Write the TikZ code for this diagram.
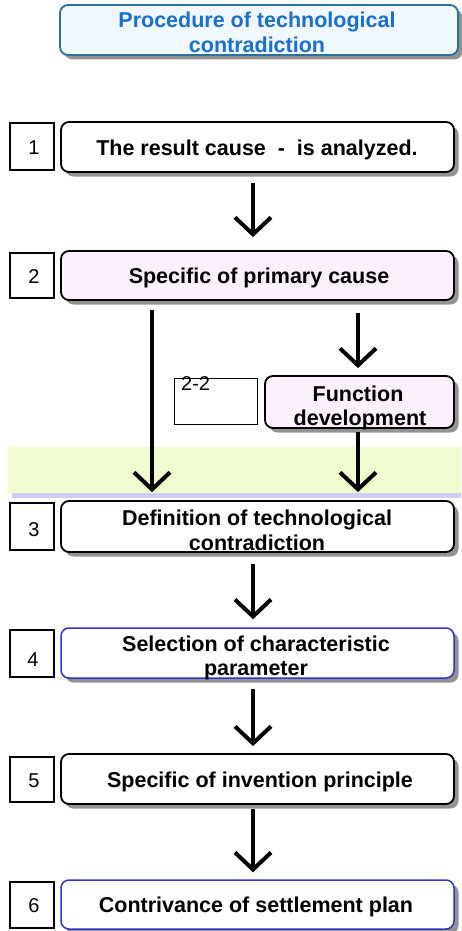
\documentclass[tikz,border=0pt]{standalone}
\usepackage{fontspec}
\setmainfont{Liberation Sans}
\usetikzlibrary{arrows.meta,shadows,calc}
\definecolor{titleborder}{HTML}{2B6F9B}
\definecolor{titlefill}{HTML}{F0F7FD}
\definecolor{titletext}{HTML}{1B6FCF}
\definecolor{pinkfill}{HTML}{FDF0FD}
\definecolor{blueborder}{HTML}{3434C4}
\definecolor{greenband}{HTML}{F0FBCF}
\definecolor{lavband}{HTML}{CCCCF6}
\begin{document}
\begin{tikzpicture}[x=1pt,y=-1pt,
  box/.style={draw=black, line width=1.8pt, rounded corners=8pt, fill=white, inner sep=0pt,
    minimum width=393pt,
    drop shadow={shadow xshift=4.5pt, shadow yshift=-4.5pt, fill=black!50, opacity=0.85}},
  numbox/.style={draw=black, line width=1.2pt, fill=white, inner sep=0pt, minimum width=44pt},
  lbl/.style={font=\fontsize{21.5}{25}\selectfont\bfseries, anchor=base, inner sep=0pt},
  num/.style={font=\fontsize{20}{24}\selectfont, anchor=base, inner sep=0pt},
  arr/.style={line width=4pt, -{Straight Barb[length=17pt,width=36pt]}}
]
\useasboundingbox (0,0) rectangle (461,931);

% background bands
\fill[greenband] (8,447) rectangle (461,493);
\fill[lavband] (12,493) rectangle (461,498);

% title
\node[box, draw=titleborder, fill=titlefill, minimum width=398pt, minimum height=50pt] (title) at (259,30) {};
\node[lbl, text=titletext] (t1) at (257,28) {Procedure of technological};
\node[lbl, text=titletext] (t2) at (257,53) {contradiction};

% number squares
\node[numbox, minimum height=47pt] (n1) at (32,146.5) {};
\node[numbox, minimum height=45pt] (n2) at (32,275.5) {};
\node[numbox, minimum height=47pt] (n3) at (32,526.5) {};
\node[numbox, minimum height=47pt] (n4) at (32,653.5) {};
\node[numbox, minimum height=45pt] (n5) at (32,779.5) {};
\node[numbox, minimum height=46pt] (n6) at (32,905) {};
\node[num] (m1) at (34,154) {1};
\node[num] (m2) at (34,283) {2};
\node[num] (m3) at (34,536) {3};
\node[num] (m4) at (33,666) {4};
\node[num] (m5) at (34,787) {5};
\node[num] (m6) at (34,912) {6};

% main boxes
\node[box, minimum height=50pt] (b1) at (257.5,147) {};
\node[lbl] (l1) at (257,155) {The result cause~ -~ is analyzed.};

\node[box, fill=pinkfill, minimum height=49pt] (b2) at (257.5,275.5) {};
\node[lbl] (l2) at (259,283.5) {Specific of primary cause};

\node[draw=black, line width=1pt, fill=white, inner sep=0pt, minimum width=83pt, minimum height=46pt] (b22) at (215.5,401) {};
\node[num, anchor=base west] (l22) at (181,390) {2-2};

\node[box, fill=pinkfill, minimum width=189pt, minimum height=52pt] (fd) at (359.5,402) {};
\node[lbl] (lf1) at (358,401) {Function};
\node[lbl] (lf2) at (360,425) {development};

\node[box, minimum height=51pt] (b3) at (257.5,526.5) {};
\node[lbl] (l3a) at (257,525) {Definition of technological};
\node[lbl] (l3b) at (257,550) {contradiction};

\node[box, draw=blueborder, line width=1.5pt, minimum height=50pt] (b4) at (257.5,653) {};
\node[lbl] (l4a) at (256,651) {Selection of characteristic};
\node[lbl] (l4b) at (256,675) {parameter};

\node[box, minimum height=50pt] (b5) at (257.5,779) {};
\node[lbl] (l5) at (260,787) {Specific of invention principle};

\node[box, draw=blueborder, line width=1.5pt, minimum height=49pt] (b6) at (257.5,904.5) {};
\node[lbl] (l6) at (256,912) {Contrivance of settlement plan};

% connectors
\coordinate (lx) at (152,0);
\coordinate (rx) at (358,0);
\draw[arr, shorten <=10pt, shorten >=13pt] ([xshift=-4.5pt]b1.south) -- ([xshift=-4.5pt]b2.north);
\draw[arr, shorten <=9pt, shorten >=8pt] (b2.south -| lx) -- (b3.north -| lx);
\draw[arr, shorten <=12pt, shorten >=7pt] (b2.south -| rx) -- (fd.north -| rx);
\draw[arr, shorten <=3pt, shorten >=8pt] (fd.south -| rx) -- (b3.north -| rx);
\draw[arr, shorten <=11pt, shorten >=8pt] ([xshift=-4.5pt]b3.south) -- ([xshift=-4.5pt]b4.north);
\draw[arr, shorten <=10pt, shorten >=7pt] ([xshift=-4.5pt]b4.south) -- ([xshift=-4.5pt]b5.north);
\draw[arr, shorten <=4pt, shorten >=7pt] ([xshift=-4.5pt]b5.south) -- ([xshift=-4.5pt]b6.north);
\end{tikzpicture}
\end{document}
